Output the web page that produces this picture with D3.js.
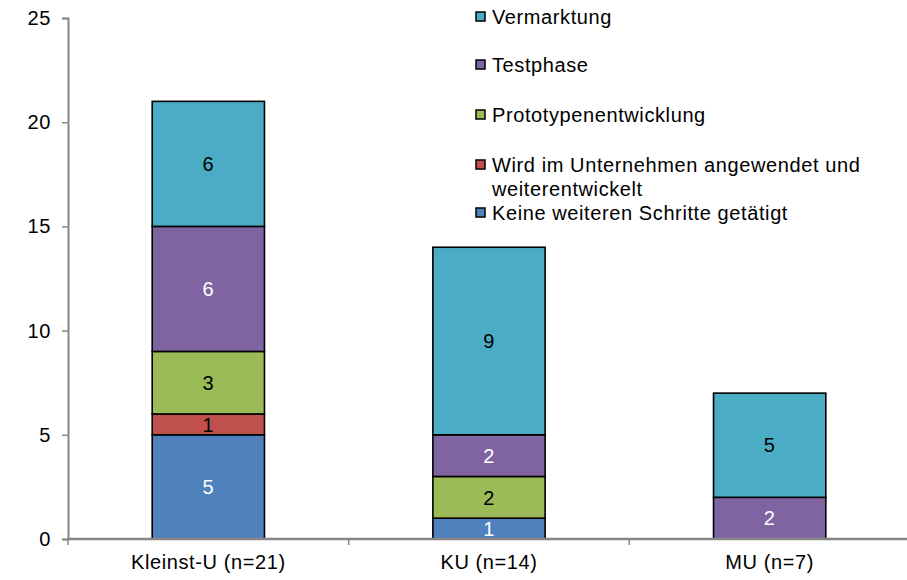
<!DOCTYPE html>
<html>
<head>
<meta charset="utf-8">
<script src="https://cdn.jsdelivr.net/npm/d3@7"></script>
<style>
  html, body { margin: 0; padding: 0; background: #fff; }
  svg { display: block; font-family: "Liberation Sans", Arial, sans-serif; }
  svg text { letter-spacing: 0.6px; }
</style>
</head>
<body>
<svg id="chart" width="907" height="580"></svg>
<script>
// Company size groups
const categories = ["Kleinst-U (n=21)", "KU (n=14)", "MU (n=7)"];

// Stage series, bottom to top of each stack
const seriesNames = [
  "Keine weiteren Schritte getätigt",
  "Wird im Unternehmen angewendet und weiterentwickelt",
  "Prototypenentwicklung",
  "Testphase",
  "Vermarktung"
];
const keineWeiteren = [5, 1, 0];
const wirdAngewendet = [1, 0, 0];
const prototypen = [3, 2, 0];
const testphase = [6, 2, 2];
const vermarktung = [6, 9, 5];

const yTicks = [0, 5, 10, 15, 20, 25];

// Legend lines (top to bottom)
const legendLines = [
  ["Vermarktung"],
  ["Testphase"],
  ["Prototypenentwicklung"],
  ["Wird im Unternehmen angewendet und", "weiterentwickelt"],
  ["Keine weiteren Schritte getätigt"]
];

const seriesValues = [keineWeiteren, wirdAngewendet, prototypen, testphase, vermarktung];
const colors = ["#4F81BD", "#C0504D", "#9BBB59", "#8064A2", "#4BACC6"];
const labelColors = ["#fff", "#000", "#000", "#fff", "#000"];

const rows = categories.map((c, i) => {
  const r = { cat: c };
  seriesNames.forEach((s, k) => { r[s] = seriesValues[k][i]; });
  return r;
});
const stacked = d3.stack().keys(seriesNames)(rows);

const svg = d3.select("#chart");
const FS = 20;

const x = d3.scaleBand().domain(categories).range([68, 910])
  .paddingInner(0.6).paddingOuter(0.3);
const y = d3.scaleLinear().domain([0, 25]).range([539, 18]);

// Bars
stacked.forEach((layer, k) => {
  const g = svg.append("g");
  layer.forEach((d, i) => {
    if (d[1] - d[0] <= 0) return;
    g.append("rect")
      .attr("x", x(categories[i]))
      .attr("y", y(d[1]))
      .attr("width", x.bandwidth())
      .attr("height", y(d[0]) - y(d[1]))
      .attr("fill", colors[k])
      .attr("stroke", "#000")
      .attr("stroke-width", 1.6);
    g.append("text")
      .attr("x", x(categories[i]) + x.bandwidth() / 2)
      .attr("y", (y(d[0]) + y(d[1])) / 2)
      .attr("dy", "0.36em")
      .attr("text-anchor", "middle")
      .attr("font-size", FS)
      .attr("fill", labelColors[k])
      .text(d[1] - d[0]);
  });
});

// Y axis
const yAxis = d3.axisLeft(y).tickValues(yTicks).tickSize(6).tickPadding(11);
const gy = svg.append("g").attr("transform", "translate(68,0)").call(yAxis);
gy.select(".domain").attr("stroke", "#868686").attr("stroke-width", 2);
gy.selectAll(".tick line").attr("stroke", "#868686").attr("stroke-width", 1.5);
gy.selectAll(".tick text").attr("font-size", FS).attr("fill", "#000")
  .attr("font-family", "Liberation Sans, Arial, sans-serif");

// X axis
const gx = svg.append("g").attr("transform", "translate(0,539)");
gx.append("line").attr("x1", 67).attr("x2", 910).attr("y1", 0).attr("y2", 0)
  .attr("stroke", "#868686").attr("stroke-width", 2.5);
const boundaries = categories.map(c => x(c) - x.step() * x.paddingInner() / 2);
boundaries[0] = 68;
gx.selectAll(".bt").data(boundaries).enter().append("line")
  .attr("x1", d => d).attr("x2", d => d).attr("y1", 0).attr("y2", 6)
  .attr("stroke", "#868686").attr("stroke-width", 1.5);
gx.selectAll(".cl").data(categories).enter().append("text")
  .attr("x", d => x(d) + x.bandwidth() / 2)
  .attr("y", 30)
  .attr("text-anchor", "middle")
  .attr("font-size", FS)
  .attr("fill", "#000")
  .text(d => d);

// Legend
const legendY = [17, 65, 115, 165, 213];
const legendColors = colors.slice().reverse();
const lg = svg.append("g");
legendLines.forEach((lines, i) => {
  lg.append("rect")
    .attr("x", 476).attr("y", legendY[i] - 5)
    .attr("width", 9).attr("height", 9)
    .attr("fill", legendColors[i])
    .attr("stroke", "#000").attr("stroke-width", 1.5);
  lines.forEach((t, j) => {
    lg.append("text")
      .attr("x", 492).attr("y", legendY[i] + j * 24)
      .attr("dy", "0.36em")
      .attr("font-size", FS)
      .attr("fill", "#000")
      .text(t);
  });
});
</script>
</body>
</html>
